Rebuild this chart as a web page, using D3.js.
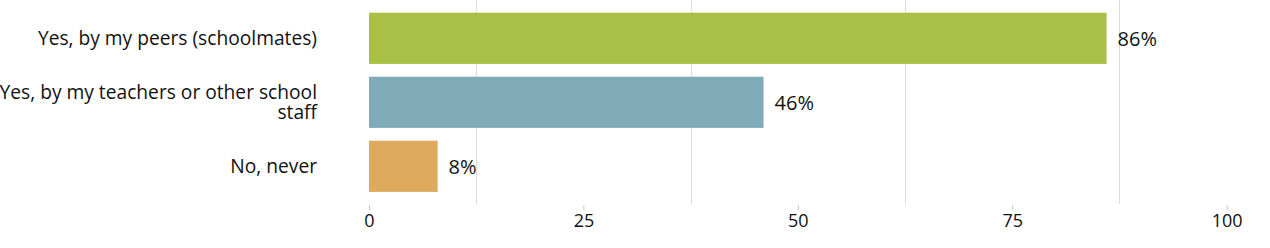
<!DOCTYPE html>
<html>
<head>
<meta charset="utf-8">
<script src="https://cdn.jsdelivr.net/npm/d3@7"></script>
<style>
  body { margin: 0; background: #fff; }
  text { font-family: "Open Sans", sans-serif; fill: #111; }
</style>
</head>
<body>
<div id="chart"></div>
<script>
"use strict";

// data
var categories = [
    "Yes, by my peers (schoolmates)",
    "Yes, by my teachers or other school staff",
    "No, never"
];
var values = [86, 46, 8];
var barColors = ["#a9bf46", "#80acb9", "#ddaa5e"];
var tickValues = [0, 25, 50, 75, 100];
var gridValues = [12.5, 37.5, 62.5, 87.5];

var width = 1270, height = 248;

var svg = d3.select("#chart")
    .append("svg")
    .attr("width", width)
    .attr("height", height);

var x = d3.scaleLinear()
    .domain([0, 100])
    .range([369, 1226.7]);

var y = d3.scaleBand()
    .domain(categories)
    .range([6.3, 198.3])
    .paddingInner(0.2)
    .paddingOuter(0.1);

// grid lines
svg.append("g")
    .attr("class", "grid")
    .selectAll("line")
    .data(gridValues)
    .enter().append("line")
    .attr("x1", function (d) { return Math.round(x(d)) + 0.5; })
    .attr("x2", function (d) { return Math.round(x(d)) + 0.5; })
    .attr("y1", 0)
    .attr("y2", 204)
    .attr("stroke", "#dcdcdc")
    .attr("stroke-width", 1);

// bars
svg.append("g")
    .attr("class", "bars")
    .selectAll("rect")
    .data(values)
    .enter().append("rect")
    .attr("x", x(0))
    .attr("y", function (d, i) { return y(categories[i]); })
    .attr("width", function (d) { return x(d) - x(0); })
    .attr("height", y.bandwidth())
    .attr("fill", function (d, i) { return barColors[i]; });

// value labels
svg.append("g")
    .attr("class", "values")
    .selectAll("text")
    .data(values)
    .enter().append("text")
    .attr("x", function (d) { return x(d) + 11; })
    .attr("y", function (d, i) { return y(categories[i]) + y.bandwidth() / 2; })
    .attr("dy", "0.36em")
    .style("font-size", "20px")
    .text(function (d) { return d + "%"; });

// category labels
var labels = svg.append("g")
    .attr("class", "labels")
    .selectAll("text")
    .data(categories)
    .enter().append("text")
    .attr("x", 317)
    .attr("y", function (d) { return y(d) + y.bandwidth() / 2; })
    .attr("text-anchor", "end")
    .style("font-size", "19.2px")
    .text(function (d) { return d; });

labels.each(function (d) {
    wrap(d3.select(this), 325);
});

function wrap(text, maxWidth) {
    var words = text.text().split(/\s+/);
    var xPos = text.attr("x");
    var yPos = +text.attr("y");
    var lines = [];
    var line = [];
    text.text(null);
    var tspan = text.append("tspan");
    words.forEach(function (w) {
        line.push(w);
        tspan.text(line.join(" "));
        if (tspan.node().getComputedTextLength() > maxWidth && line.length > 1) {
            line.pop();
            lines.push(line.join(" "));
            line = [w];
        }
        tspan.text(line.join(" "));
    });
    lines.push(line.join(" "));
    text.text(null);
    var lineHeight = 20;
    var start = -(lines.length - 1) * lineHeight / 2;
    lines.forEach(function (l, i) {
        text.append("tspan")
            .attr("x", xPos)
            .attr("y", yPos + start + i * lineHeight)
            .attr("dy", "0.35em")
            .text(l);
    });
}

// x axis
var axis = d3.axisBottom(x)
    .tickValues(tickValues)
    .tickSize(5)
    .tickPadding(4);

var gx = svg.append("g")
    .attr("class", "x-axis")
    .attr("transform", "translate(0,205)")
    .call(axis);

gx.select(".domain").remove();
gx.selectAll(".tick line").attr("stroke", "#c8c8c8");
gx.selectAll(".tick text")
    .style("font-size", "18px")
    .style("font-family", "'Open Sans', sans-serif")
    .attr("fill", "#111");
</script>
</body>
</html>
